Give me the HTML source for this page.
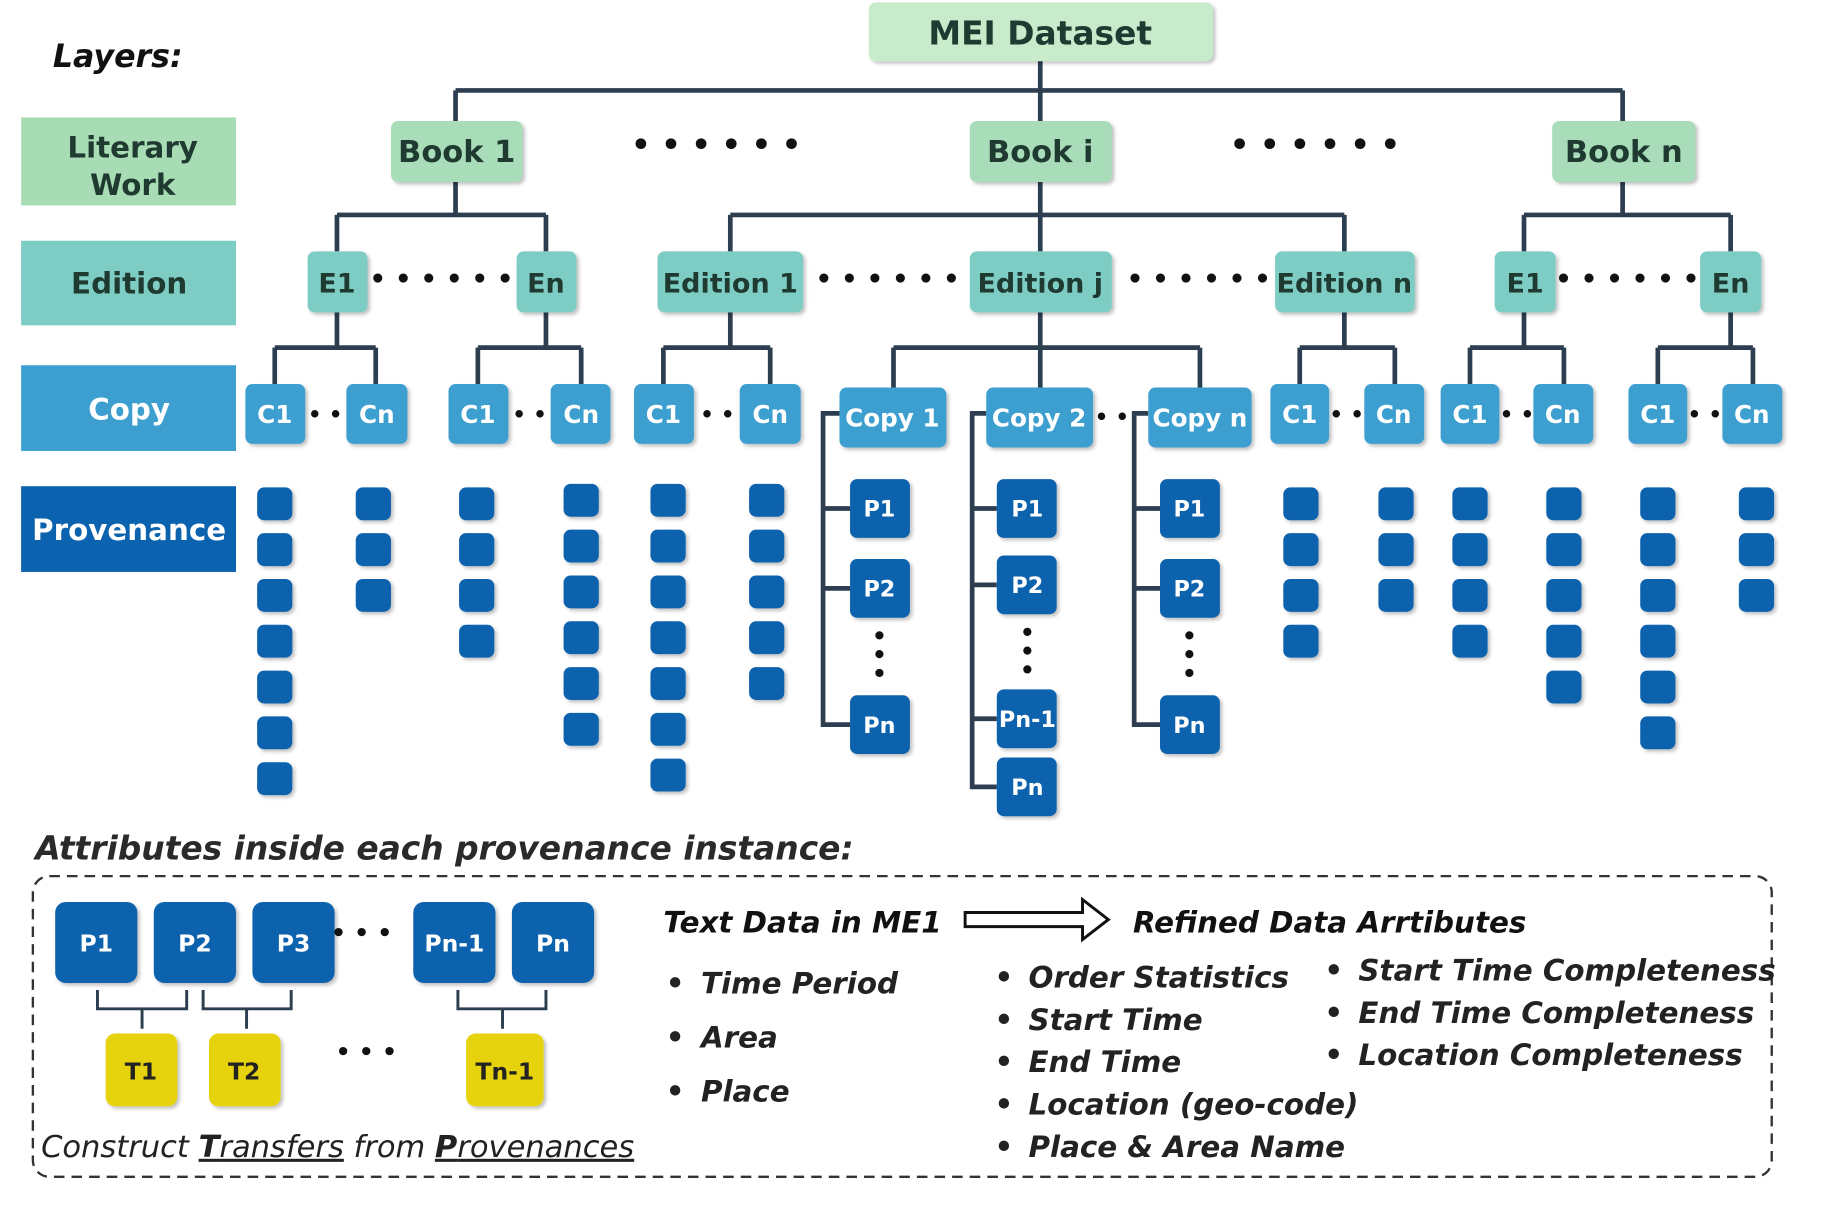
<!DOCTYPE html>
<html><head><meta charset="utf-8"><style>
html,body{margin:0;padding:0;background:#fff}
svg{display:block}
text{font-family:"DejaVu Sans","Liberation Sans",sans-serif;font-weight:bold}
.dk{fill:#1f3a30}
.wt{fill:#fff}
.ln{stroke:#2c3e50;stroke-width:4;fill:none}
.pv{fill:#0b62ae}
.it{font-style:italic;font-weight:normal;fill:#222}
</style></head><body>
<svg width="1841" height="1212" viewBox="0 0 1568 1032" preserveAspectRatio="none">
<defs><filter id="sh" x="-10%" y="-10%" width="130%" height="140%"><feDropShadow dx="2" dy="2" stdDeviation="1.5" flood-color="#000" flood-opacity="0.25"/></filter></defs>
<text x="45" y="57" font-size="27" font-style="italic" fill="#111">Layers:</text>
<!-- layer boxes -->
<rect x="18" y="100" width="183" height="75" fill="#a8dcb5"/>
<text x="113" y="134" font-size="25" text-anchor="middle" class="dk">Literary</text>
<text x="113" y="166" font-size="25" text-anchor="middle" class="dk">Work</text>
<rect x="18" y="205" width="183" height="72" fill="#7ecdc4"/>
<text x="110" y="250" font-size="25" text-anchor="middle" class="dk">Edition</text>
<rect x="18" y="311" width="183" height="73" fill="#3d9fd0"/>
<text x="110" y="357" font-size="25" text-anchor="middle" class="wt">Copy</text>
<rect x="18" y="414" width="183" height="73" fill="#0b62ae"/>
<text x="110" y="460" font-size="25" text-anchor="middle" class="wt">Provenance</text>

<!-- lines -->
<path class="ln" d="M886 52V77M388 77H1382M388 77V103M886 77V103M1382 77V103"/>
<path class="ln" d="M388 155V183M287 183H465M287 183V214M465 183V214"/>
<path class="ln" d="M886 155V183M622 183H1145M622 183V214M886 183V214M1145 183V214"/>
<path class="ln" d="M1382 155V183M1298 183H1474M1298 183V214M1474 183V214"/>
<path class="ln" d="M287 266V296M234 296H320M234 296V327M320 296V327"/>
<path class="ln" d="M465 266V296M407 296H495M407 296V327M495 296V327"/>
<path class="ln" d="M622 266V296M565 296H656M565 296V327M656 296V327"/>
<path class="ln" d="M886 266V296M761 296H1022M761 296V330M886 296V330M1022 296V330"/>
<path class="ln" d="M1145 266V296M1107 296H1188M1107 296V327M1188 296V327"/>
<path class="ln" d="M1298 266V296M1252 296H1332M1252 296V327M1332 296V327"/>
<path class="ln" d="M1474 266V296M1412 296H1493M1412 296V327M1493 296V327"/>
<path class="ln" d="M715 352H701V617H724M701 433H724M701 501H724"/>
<path class="ln" d="M840 352H828V670H849M828 433H849M828 498H849M828 612H849"/>
<path class="ln" d="M978 352H966V617H988M966 433H988M966 501H988"/>

<g filter="url(#sh)">
<rect x="740" y="2" width="293" height="50" rx="6" fill="#c8ebcb"/>
<rect x="333" y="103" width="112" height="52" rx="6" fill="#a9dcb9"/>
<rect x="826" y="103" width="121" height="52" rx="6" fill="#a9dcb9"/>
<rect x="1322" y="103" width="122" height="52" rx="6" fill="#a9dcb9"/>
<rect x="262" y="214" width="51" height="52" rx="6" fill="#7ecdc4"/>
<rect x="440" y="214" width="51" height="52" rx="6" fill="#7ecdc4"/>
<rect x="560" y="214" width="124" height="52" rx="6" fill="#7ecdc4"/>
<rect x="826" y="214" width="121" height="52" rx="6" fill="#7ecdc4"/>
<rect x="1086" y="214" width="119" height="52" rx="6" fill="#7ecdc4"/>
<rect x="1273" y="214" width="52" height="52" rx="6" fill="#7ecdc4"/>
<rect x="1448" y="214" width="52" height="52" rx="6" fill="#7ecdc4"/>
<g fill="#3d9fd0">
<rect x="209" y="327" width="51" height="51" rx="6"/><rect x="295" y="327" width="52" height="51" rx="6"/>
<rect x="382" y="327" width="51" height="51" rx="6"/><rect x="469" y="327" width="51" height="51" rx="6"/>
<rect x="540" y="327" width="51" height="51" rx="6"/><rect x="630" y="327" width="52" height="51" rx="6"/>
<rect x="715" y="330" width="91" height="51" rx="6"/><rect x="840" y="330" width="91" height="51" rx="6"/><rect x="978" y="330" width="88" height="51" rx="6"/>
<rect x="1082" y="327" width="50" height="51" rx="6"/><rect x="1162" y="327" width="51" height="51" rx="6"/>
<rect x="1227" y="327" width="50" height="51" rx="6"/><rect x="1306" y="327" width="51" height="51" rx="6"/>
<rect x="1387" y="327" width="50" height="51" rx="6"/><rect x="1467" y="327" width="51" height="51" rx="6"/>
</g>
<g class="pv">
<rect x="724" y="408" width="51" height="50" rx="6"/><rect x="724" y="476" width="51" height="50" rx="6"/><rect x="724" y="592" width="51" height="50" rx="6"/>
<rect x="849" y="408" width="51" height="50" rx="6"/><rect x="849" y="473" width="51" height="50" rx="6"/><rect x="849" y="587" width="51" height="50" rx="6"/><rect x="849" y="645" width="51" height="50" rx="6"/>
<rect x="988" y="408" width="51" height="50" rx="6"/><rect x="988" y="476" width="51" height="50" rx="6"/><rect x="988" y="592" width="51" height="50" rx="6"/>
</g>
<g class="pv">
<rect x="219" y="415" width="30" height="28" rx="6"/><rect x="219" y="454" width="30" height="28" rx="6"/><rect x="219" y="493" width="30" height="28" rx="6"/><rect x="219" y="532" width="30" height="28" rx="6"/><rect x="219" y="571" width="30" height="28" rx="6"/><rect x="219" y="610" width="30" height="28" rx="6"/><rect x="219" y="649" width="30" height="28" rx="6"/>
<rect x="303" y="415" width="30" height="28" rx="6"/><rect x="303" y="454" width="30" height="28" rx="6"/><rect x="303" y="493" width="30" height="28" rx="6"/>
<rect x="391" y="415" width="30" height="28" rx="6"/><rect x="391" y="454" width="30" height="28" rx="6"/><rect x="391" y="493" width="30" height="28" rx="6"/><rect x="391" y="532" width="30" height="28" rx="6"/>
<rect x="480" y="412" width="30" height="28" rx="6"/><rect x="480" y="451" width="30" height="28" rx="6"/><rect x="480" y="490" width="30" height="28" rx="6"/><rect x="480" y="529" width="30" height="28" rx="6"/><rect x="480" y="568" width="30" height="28" rx="6"/><rect x="480" y="607" width="30" height="28" rx="6"/>
<rect x="554" y="412" width="30" height="28" rx="6"/><rect x="554" y="451" width="30" height="28" rx="6"/><rect x="554" y="490" width="30" height="28" rx="6"/><rect x="554" y="529" width="30" height="28" rx="6"/><rect x="554" y="568" width="30" height="28" rx="6"/><rect x="554" y="607" width="30" height="28" rx="6"/><rect x="554" y="646" width="30" height="28" rx="6"/>
<rect x="638" y="412" width="30" height="28" rx="6"/><rect x="638" y="451" width="30" height="28" rx="6"/><rect x="638" y="490" width="30" height="28" rx="6"/><rect x="638" y="529" width="30" height="28" rx="6"/><rect x="638" y="568" width="30" height="28" rx="6"/>
<rect x="1093" y="415" width="30" height="28" rx="6"/><rect x="1093" y="454" width="30" height="28" rx="6"/><rect x="1093" y="493" width="30" height="28" rx="6"/><rect x="1093" y="532" width="30" height="28" rx="6"/>
<rect x="1174" y="415" width="30" height="28" rx="6"/><rect x="1174" y="454" width="30" height="28" rx="6"/><rect x="1174" y="493" width="30" height="28" rx="6"/>
<rect x="1237" y="415" width="30" height="28" rx="6"/><rect x="1237" y="454" width="30" height="28" rx="6"/><rect x="1237" y="493" width="30" height="28" rx="6"/><rect x="1237" y="532" width="30" height="28" rx="6"/>
<rect x="1317" y="415" width="30" height="28" rx="6"/><rect x="1317" y="454" width="30" height="28" rx="6"/><rect x="1317" y="493" width="30" height="28" rx="6"/><rect x="1317" y="532" width="30" height="28" rx="6"/><rect x="1317" y="571" width="30" height="28" rx="6"/>
<rect x="1397" y="415" width="30" height="28" rx="6"/><rect x="1397" y="454" width="30" height="28" rx="6"/><rect x="1397" y="493" width="30" height="28" rx="6"/><rect x="1397" y="532" width="30" height="28" rx="6"/><rect x="1397" y="571" width="30" height="28" rx="6"/><rect x="1397" y="610" width="30" height="28" rx="6"/>
<rect x="1481" y="415" width="30" height="28" rx="6"/><rect x="1481" y="454" width="30" height="28" rx="6"/><rect x="1481" y="493" width="30" height="28" rx="6"/>
</g>
</g>

<g class="dk" text-anchor="middle">
<text x="886" y="38" font-size="28">MEI Dataset</text>
<text x="389" y="138" font-size="26">Book 1</text>
<text x="886" y="138" font-size="26">Book i</text>
<text x="1383" y="138" font-size="26">Book n</text>
<text x="287" y="249" font-size="23">E1</text>
<text x="465" y="249" font-size="23">En</text>
<text x="622" y="249" font-size="23">Edition 1</text>
<text x="886" y="249" font-size="23">Edition j</text>
<text x="1145" y="249" font-size="23">Edition n</text>
<text x="1299" y="249" font-size="23">E1</text>
<text x="1474" y="249" font-size="23">En</text>
</g>
<g fill="#111" font-size="26" text-anchor="middle">
<text x="610" y="132">• • • • • •</text>
<text x="1120" y="132">• • • • • •</text>
<text x="376" y="245" font-size="22">• • • • • •</text>
<text x="756" y="245" font-size="22">• • • • • •</text>
<text x="1021" y="245" font-size="22">• • • • • •</text>
<text x="1386" y="245" font-size="22">• • • • • •</text>
</g>
<g fill="#111" font-size="18" text-anchor="middle">
<text x="277" y="359">• •</text><text x="451" y="359">• •</text><text x="611" y="359">• •</text>
<text x="947" y="361">• •</text><text x="1147" y="359">• •</text><text x="1292" y="359">• •</text><text x="1452" y="359">• •</text>
</g>
<g class="wt" text-anchor="middle" font-size="21">
<text x="234" y="360">C1</text><text x="321" y="360">Cn</text>
<text x="407" y="360">C1</text><text x="495" y="360">Cn</text>
<text x="565" y="360">C1</text><text x="656" y="360">Cn</text>
<text x="760" y="363">Copy 1</text><text x="885" y="363">Copy 2</text><text x="1022" y="363">Copy n</text>
<text x="1107" y="360">C1</text><text x="1187" y="360">Cn</text>
<text x="1252" y="360">C1</text><text x="1331" y="360">Cn</text>
<text x="1412" y="360">C1</text><text x="1492" y="360">Cn</text>
</g>
<g class="wt" text-anchor="middle" font-size="19">
<text x="749" y="440">P1</text><text x="749" y="508">P2</text><text x="749" y="624">Pn</text>
<text x="875" y="440">P1</text><text x="875" y="505">P2</text><text x="875" y="619">Pn-1</text><text x="875" y="677">Pn</text>
<text x="1013" y="440">P1</text><text x="1013" y="508">P2</text><text x="1013" y="624">Pn</text>
</g>
<g fill="#111">
<circle cx="749" cy="541" r="3.5"/><circle cx="749" cy="557" r="3.5"/><circle cx="749" cy="573" r="3.5"/>
<circle cx="875" cy="538" r="3.5"/><circle cx="875" cy="554" r="3.5"/><circle cx="875" cy="570" r="3.5"/>
<circle cx="1013" cy="541" r="3.5"/><circle cx="1013" cy="557" r="3.5"/><circle cx="1013" cy="573" r="3.5"/>
</g>

<!-- bottom -->
<text x="30" y="732" font-size="28" font-style="italic" fill="#2a2a2a">Attributes inside each provenance instance:</text>
<rect x="28" y="746" width="1481" height="256" rx="14" fill="none" stroke="#333" stroke-width="2" stroke-dasharray="9,6"/>
<g filter="url(#sh)" class="pv">
<rect x="47" y="768" width="70" height="69" rx="9"/><rect x="131" y="768" width="70" height="69" rx="9"/><rect x="215" y="768" width="70" height="69" rx="9"/>
<rect x="352" y="768" width="70" height="69" rx="9"/><rect x="436" y="768" width="70" height="69" rx="9"/>
</g>
<g filter="url(#sh)" fill="#e6d30a">
<rect x="90" y="880" width="61" height="62" rx="8"/><rect x="178" y="880" width="61" height="62" rx="8"/><rect x="397" y="880" width="66" height="62" rx="8"/>
</g>
<g class="wt" text-anchor="middle" font-size="20">
<text x="82" y="810">P1</text><text x="166" y="810">P2</text><text x="250" y="810">P3</text><text x="387" y="810">Pn-1</text><text x="471" y="810">Pn</text>
</g>
<g text-anchor="middle" font-size="20" fill="#222">
<text x="120" y="919">T1</text><text x="208" y="919">T2</text><text x="430" y="919">Tn-1</text>
</g>
<g fill="#111" font-size="20" text-anchor="middle"><text x="308" y="801">• • •</text><text x="312" y="902">• • •</text></g>
<path d="M83 843V859H159V843M121 859V876M173 843V859H248V843M210 859V876M390 843V859H465V843M428 859V876" stroke="#2c3e50" stroke-width="2.5" fill="none"/>
<text x="35" y="985" font-size="26" class="it">Construct <tspan font-weight="bold" text-decoration="underline">T</tspan><tspan text-decoration="underline">ransfers</tspan> from <tspan font-weight="bold" text-decoration="underline">P</tspan><tspan text-decoration="underline">rovenances</tspan></text>

<text x="565" y="794" font-size="25" font-style="italic" fill="#111">Text Data in ME1</text>
<path d="M822 777H922V766L944 783L922 800V789H822Z" fill="none" stroke="#111" stroke-width="2.5"/>
<text x="965" y="794" font-size="25" font-style="italic" fill="#111">Refined Data Arrtibutes</text>
<g class="it" font-size="25">
<text x="567" y="846">•</text><text x="597" y="846">Time Period</text>
<text x="567" y="892">•</text><text x="597" y="892">Area</text>
<text x="567" y="938">•</text><text x="597" y="938">Place</text>
<text x="847" y="841">•</text><text x="876" y="841">Order Statistics</text>
<text x="847" y="877">•</text><text x="876" y="877">Start Time</text>
<text x="847" y="913">•</text><text x="876" y="913">End Time</text>
<text x="847" y="949">•</text><text x="876" y="949">Location (geo-code)</text>
<text x="847" y="985">•</text><text x="876" y="985">Place &amp; Area Name</text>
<text x="1128" y="835">•</text><text x="1157" y="835">Start Time Completeness</text>
<text x="1128" y="871">•</text><text x="1157" y="871">End Time Completeness</text>
<text x="1128" y="907">•</text><text x="1157" y="907">Location Completeness</text>
</g>
</svg>
</body></html>
